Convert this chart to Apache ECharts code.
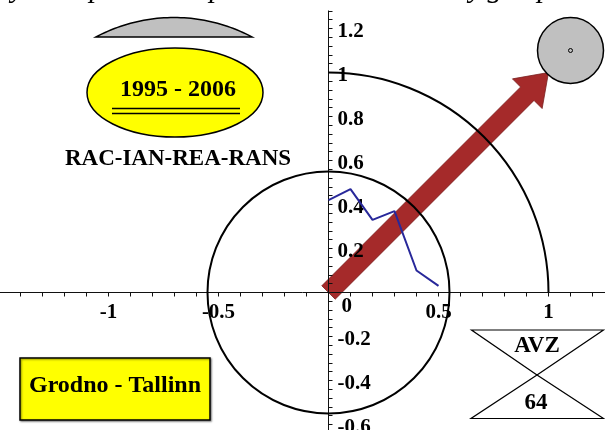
<!DOCTYPE html>
<html><head><meta charset="utf-8">
<script src="https://cdn.jsdelivr.net/npm/echarts@6/dist/echarts.min.js"></script>
<style>html,body{margin:0;padding:0;background:#fff}#c{width:605px;height:430px}</style>
</head><body><div id="c"></div>
<script>
// ---- data ----
const lineX = [0, 0.1, 0.2, 0.3, 0.4, 0.5];
const lineY = [0.42, 0.47, 0.33, 0.37, 0.10, 0.03];
const circleCenter = [0, 0];
const innerRadius = 0.55;
const outerRadius = 1;
const arrowFrom = [0, 0];
const arrowTo = [1, 1];
const diskCenter = [1.1, 1.1];
const diskRadius = 0.15;
const xLabelValues = [-1, -0.5, 0.5, 1];
const yLabelValues = [-0.6, -0.4, -0.2, 0, 0.2, 0.4, 0.6, 0.8, 1, 1.2];
const periodText = '1995 - 2006';
const indexText = 'RAC-IAN-REA-RANS';
const routeText = 'Grodno - Tallinn';
const badgeTop = 'AVZ';
const badgeBottom = '64';
const titleGlyphs = ['y', 'p', 'p', 'y', 'g', 'p'];

// ---- layout ----
const SERIF = '"Liberation Serif", "Times New Roman", serif';
const near = (v, list) => list.some(t => Math.abs(t - v) < 1e-6);
const X_MIN = -1.5, X_MAX = 1.3, Y_MIN = -0.64, Y_MAX = 1.28;
const GRID = { left: -1.5, right: -9.5, top: 10.9, bottom: -3.3 };
const PX = 220; // pixels per unit on both axes
const xAxisOffset = -(0 - Y_MIN) * PX;   // move x axis up to y = 0
const yAxisOffset = -(0 - X_MIN) * PX;   // move y axis right to x = 0
const LABEL_SIZE = 21;

function lensPoints(x1, x2, yb, s) {
  const c = (x2 - x1) / 2, R = (c * c + s * s) / (2 * s), cx = (x1 + x2) / 2, cy = yb - s + R;
  const a0 = Math.asin(c / R), pts = [];
  for (let i = 0; i <= 48; i++) { const t = -a0 + 2 * a0 * i / 48; pts.push([cx + R * Math.sin(t), cy - R * Math.cos(t)]); }
  return pts;
}

const glyphX = [18, 97, 217, 476, 495, 545];

const chart = echarts.init(document.getElementById('c'), null, { renderer: 'canvas', width: 605, height: 430 });
chart.setOption({
  animation: false,
  backgroundColor: '#ffffff',
  grid: Object.assign({ containLabel: false, outerBoundsMode: 'none' }, GRID),
  xAxis: {
    type: 'value', min: X_MIN, max: X_MAX, interval: 0.1, position: 'bottom', offset: xAxisOffset, z: 2.5,
    splitLine: { show: false },
    axisLine: { onZero: false, lineStyle: { color: '#111', width: 1 } },
    axisTick: { show: true, length: 4, lineStyle: { color: '#111', width: 1 } },
    axisLabel: {
      margin: 10, color: '#000', fontFamily: SERIF, fontWeight: 'bold', fontSize: LABEL_SIZE, hideOverlap: false,
      showMinLabel: true, showMaxLabel: true,
      formatter: v => near(v, xLabelValues) ? String(Math.round(v * 10) / 10) : ''
    }
  },
  yAxis: {
    type: 'value', min: Y_MIN, max: Y_MAX, interval: 0.04, position: 'left', offset: yAxisOffset, z: 2.5,
    splitLine: { show: false },
    axisLine: { onZero: false, lineStyle: { color: '#111', width: 1 } },
    axisTick: { show: true, inside: true, length: 4, lineStyle: { color: '#111', width: 1 } },
    axisLabel: {
      inside: true, margin: 9, color: '#000', fontFamily: SERIF, fontWeight: 'bold', fontSize: LABEL_SIZE, hideOverlap: false,
      padding: [6, 0, 0, 0],
      formatter: v => {
        if (!near(v, yLabelValues)) return '';
        if (Math.abs(v) < 1e-6) return '{z|0}';
        return String(Math.round(v * 10) / 10);
      },
      rich: { z: { padding: [22, 0, 0, 4], fontFamily: SERIF, fontWeight: 'bold', fontSize: LABEL_SIZE, color: '#000' } }
    }
  },
  series: [
    {
      type: 'custom', name: 'arrow', z: 2, silent: true,
      data: [[arrowFrom[0], arrowFrom[1], arrowTo[0], arrowTo[1]]],
      encode: { x: [0, 2], y: [1, 3] },
      renderItem(params, api) {
        const a = api.coord([api.value(0), api.value(1)]);
        const b = api.coord([api.value(2), api.value(3)]);
        const dx = b[0] - a[0], dy = b[1] - a[1], L = Math.hypot(dx, dy);
        const ux = dx / L, uy = dy / L, nx = -uy, ny = ux;
        const sw = 9.5, hw = 21, hl = 30;
        const bx = b[0] - ux * hl, by = b[1] - uy * hl;
        const pts = [[a[0] + nx * sw, a[1] + ny * sw], [bx + nx * sw, by + ny * sw], [bx + nx * hw, by + ny * hw], [b[0], b[1]],
          [bx - nx * hw, by - ny * hw], [bx - nx * sw, by - ny * sw], [a[0] - nx * sw, a[1] - ny * sw]];
        return { type: 'polygon', shape: { points: pts }, style: { fill: '#A52A2A', stroke: '#7a2020', lineWidth: 0.8 } };
      }
    },
    {
      type: 'custom', name: 'inner circle', z: 3, silent: true, clip: false,
      data: [[circleCenter[0], circleCenter[1], innerRadius]],
      renderItem(params, api) {
        const c = api.coord([api.value(0), api.value(1)]);
        const r = api.size([api.value(2), 0])[0];
        return { type: 'circle', shape: { cx: c[0], cy: c[1], r: r }, style: { fill: null, stroke: '#000', lineWidth: 2 } };
      }
    },
    {
      type: 'custom', name: 'outer arc', z: 3, silent: true, clip: false,
      data: [[circleCenter[0], circleCenter[1], outerRadius]],
      renderItem(params, api) {
        const c = api.coord([api.value(0), api.value(1)]);
        const r = api.size([api.value(2), 0])[0];
        return { type: 'arc', shape: { cx: c[0], cy: c[1], r: r, startAngle: -Math.PI / 2, endAngle: 0, clockwise: true },
          style: { fill: null, stroke: '#000', lineWidth: 2 } };
      }
    },
    {
      type: 'line', name: 'series', z: 4, silent: true,
      data: lineX.map((x, i) => [x, lineY[i]]),
      showSymbol: false, symbol: 'none',
      lineStyle: { color: '#28289a', width: 2 }
    },
    {
      type: 'custom', name: 'disk', z: 4, silent: true, clip: false,
      data: [[diskCenter[0], diskCenter[1], diskRadius]],
      renderItem(params, api) {
        const c = api.coord([api.value(0), api.value(1)]);
        const r = api.size([api.value(2), 0])[0];
        return { type: 'group', children: [
          { type: 'circle', shape: { cx: c[0], cy: c[1], r: r }, style: { fill: '#C0C0C0', stroke: '#000', lineWidth: 1.5 } },
          { type: 'circle', shape: { cx: c[0], cy: c[1], r: 2 }, style: { fill: '#C0C0C0', stroke: '#000', lineWidth: 1 } }
        ] };
      }
    }
  ],
  graphic: [
    ...titleGlyphs.map((g, i) => ({ type: 'text', x: glyphX[i], y: 4, z: 10,
      style: { text: g, font: 'italic 30px ' + SERIF, fill: '#000', align: 'center', verticalAlign: 'bottom' } })),
    { type: 'polygon', z: 10, shape: { points: lensPoints(96, 252, 37, 19.5) }, style: { fill: '#C0C0C0', stroke: '#000', lineWidth: 1.5 } },
    { type: 'ellipse', z: 10, shape: { cx: 175, cy: 92.5, rx: 88, ry: 44.5 }, style: { fill: '#FFFF00', stroke: '#000', lineWidth: 1.5 } },
    { type: 'text', z: 11, x: 178, y: 90, style: { text: periodText, font: 'bold 24px ' + SERIF, fill: '#000', align: 'center', verticalAlign: 'middle' } },
    { type: 'line', z: 11, shape: { x1: 112, y1: 108.5, x2: 240, y2: 108.5 }, style: { stroke: '#000', lineWidth: 1.5 } },
    { type: 'line', z: 11, shape: { x1: 112, y1: 113.5, x2: 240, y2: 113.5 }, style: { stroke: '#000', lineWidth: 1.5 } },
    { type: 'text', z: 11, x: 178, y: 159, style: { text: indexText, font: 'bold 23px ' + SERIF, fill: '#000', align: 'center', verticalAlign: 'middle' } },
    { type: 'rect', z: 10, shape: { x: 20, y: 358, width: 190, height: 62 },
      style: { fill: '#FFFF00', stroke: '#000', lineWidth: 1.5, shadowBlur: 2, shadowColor: 'rgba(0,0,0,0.45)', shadowOffsetX: 1, shadowOffsetY: 1 } },
    { type: 'text', z: 11, x: 115, y: 386, style: { text: routeText, font: 'bold 24px ' + SERIF, fill: '#000', align: 'center', verticalAlign: 'middle' } },
    { type: 'polygon', z: 10, shape: { points: [[471.5, 330], [603.5, 330], [537, 375]] }, style: { fill: '#fff', stroke: '#000', lineWidth: 1.2 } },
    { type: 'polygon', z: 10, shape: { points: [[537, 375], [471, 418.5], [603.5, 418.5]] }, style: { fill: '#fff', stroke: '#000', lineWidth: 1.2 } },
    { type: 'text', z: 11, x: 537, y: 346, style: { text: badgeTop, font: 'bold 23px ' + SERIF, fill: '#000', align: 'center', verticalAlign: 'middle' } },
    { type: 'text', z: 11, x: 536, y: 403, style: { text: badgeBottom, font: 'bold 23px ' + SERIF, fill: '#000', align: 'center', verticalAlign: 'middle' } }
  ]
});
</script>
</body></html>
